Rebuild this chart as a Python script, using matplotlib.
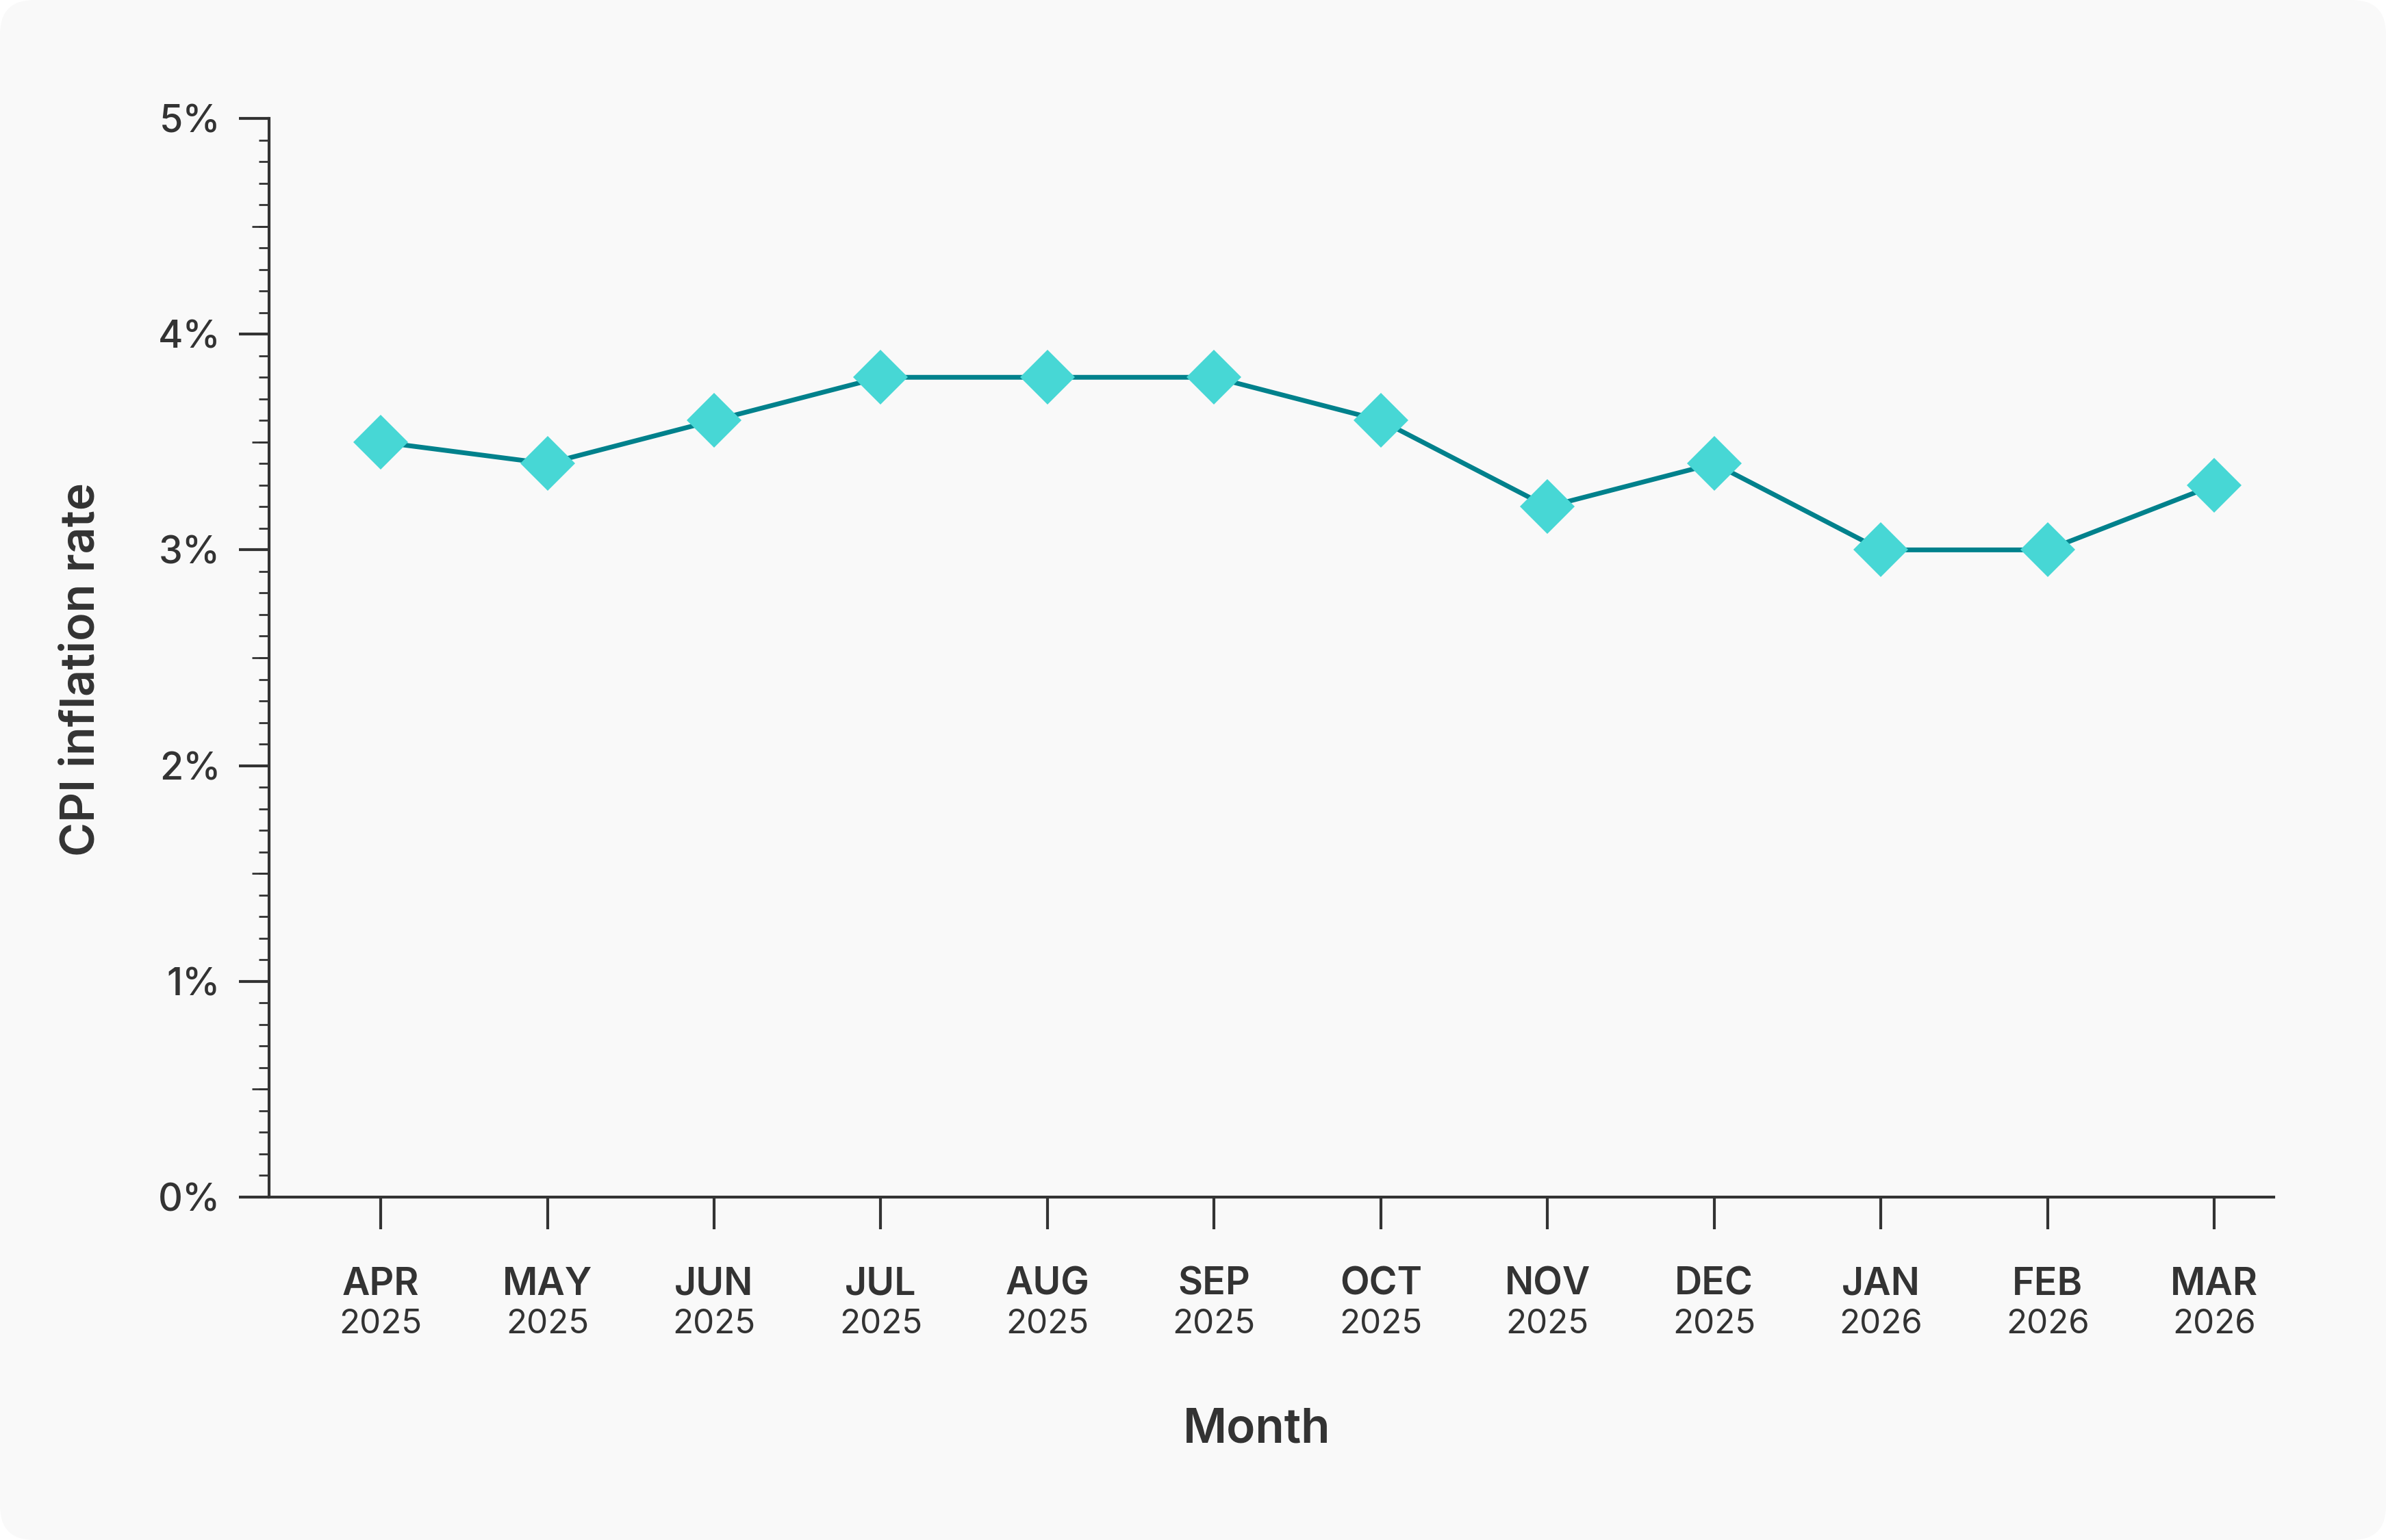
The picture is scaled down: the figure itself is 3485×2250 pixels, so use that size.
import matplotlib
matplotlib.use("Agg")
import matplotlib.pyplot as plt
from matplotlib.patches import FancyBboxPatch
from matplotlib.ticker import MultipleLocator, FuncFormatter
from matplotlib.transforms import blended_transform_factory

months = ["APR", "MAY", "JUN", "JUL", "AUG", "SEP", "OCT", "NOV", "DEC", "JAN", "FEB", "MAR"]
years = ["2025", "2025", "2025", "2025", "2025", "2025", "2025", "2025", "2025", "2026", "2026", "2026"]
cpi = [3.5, 3.4, 3.6, 3.8, 3.8, 3.8, 3.6, 3.2, 3.4, 3.0, 3.0, 3.3]
y_ticks = [0, 1, 2, 3, 4, 5]

TXT = "#333333"
plt.rcParams["font.family"] = ["Inter", "DejaVu Sans"]

W, H = 34.85, 22.5
fig = plt.figure(figsize=(W, H), dpi=100, facecolor="white")

# light grey card with rounded corners
card = FancyBboxPatch((0, 0), W, H, boxstyle="round,pad=0,rounding_size=0.5",
                      transform=fig.dpi_scale_trans, facecolor="#f9f9f9",
                      edgecolor="none", zorder=-10)
fig.patches.append(card)

ax = fig.add_axes([393 / 3485, 1 - 1749 / 2250, (3321 - 393) / 3485, (1749 - 173) / 2250])
ax.set_facecolor("none")

x = list(range(len(months)))
ax.plot(x, cpi, color="#00818c", linewidth=5, marker="D", markersize=40.5,
        markerfacecolor="#47d7d5", markeredgewidth=0, solid_joinstyle="miter", zorder=3)

ax.set_xlim(-0.67, 11.357)
ax.set_ylim(0, 5)

for s in ["top", "right"]:
    ax.spines[s].set_visible(False)
for s in ["left", "bottom"]:
    ax.spines[s].set_color(TXT)
    ax.spines[s].set_linewidth(3)

ax.set_yticks(y_ticks)
ax.yaxis.set_major_formatter(FuncFormatter(lambda v, p: f"{v:.0f}%"))
ax.yaxis.set_minor_locator(MultipleLocator(0.1))
ax.tick_params(axis="y", which="major", length=32, width=3, color=TXT, pad=19,
               labelsize=40, labelcolor=TXT)
for lab in ax.get_yticklabels():
    lab.set_fontweight("medium")
ax.tick_params(axis="y", which="minor", length=10.5, width=2, color=TXT)

# half-step ticks a bit longer than the minor ones
sec = ax.secondary_yaxis("left")
sec.set_yticks([0.5, 1.5, 2.5, 3.5, 4.5])
sec.tick_params(length=18, width=2, color=TXT, labelleft=False)
sec.spines["left"].set_visible(False)

ax.set_xticks(x)
ax.set_xticklabels([])
ax.tick_params(axis="x", which="major", length=34, width=3, color=TXT)

tr = blended_transform_factory(ax.transData, ax.transAxes)
ax_h = 1749 - 173
for i, (m, yr) in enumerate(zip(months, years)):
    ax.text(i, -143 / ax_h, m, transform=tr, ha="center", va="baseline",
            fontsize=40, fontweight="semibold", color=TXT)
    ax.text(i, -199 / ax_h, yr, transform=tr, ha="center", va="baseline",
            fontsize=35.5, color=TXT)

fig.text(1836 / 3485, 1 - 2107 / 2250, "Month", ha="center", va="baseline",
         fontsize=50, fontweight="semibold", color=TXT)
fig.text(120 / 3485, 1 - 978 / 2250, "CPI inflation rate", ha="center", va="center",
         rotation=90, fontsize=49, fontweight="semibold", color=TXT)

fig.savefig("out.png", dpi=100, facecolor="white")
